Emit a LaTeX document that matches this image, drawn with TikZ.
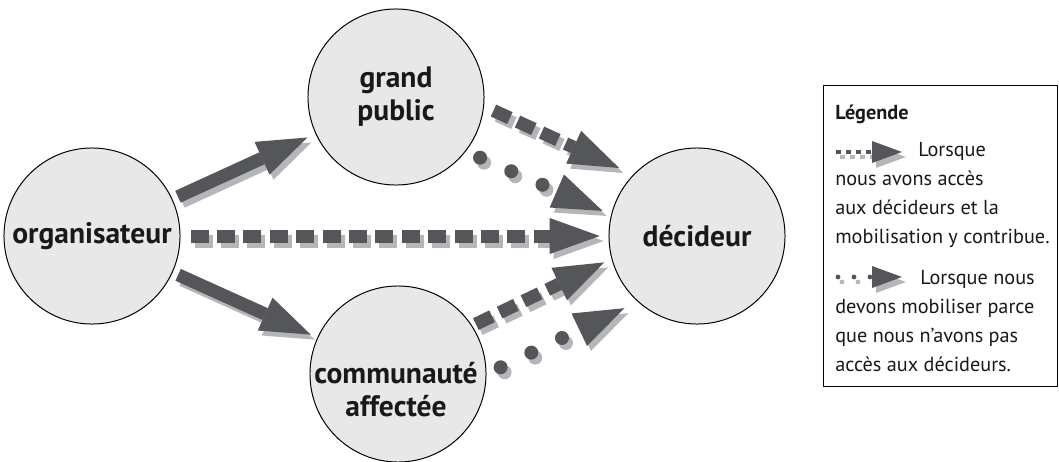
\documentclass[tikz,border=0pt]{standalone}
\usepackage{fontspec}
\setmainfont{PT Sans}
\usetikzlibrary{arrows.meta}
\definecolor{grisfonce}{HTML}{55565A}
\definecolor{grisombre}{HTML}{B5B6B9}
\definecolor{grisclair}{HTML}{E8E8E8}
% flèche avec son ombre portée
\newcommand{\fleche}[3]{%
  \draw[#1, ombre] (#2) -- (#3);
  \draw[#1] (#2) -- (#3);}
\begin{document}
\begin{tikzpicture}[x=0.025cm, y=-0.025cm,
  etiquette/.style={align=center, text=black!90, inner sep=0pt, font=\fontsize{21}{23.5}\selectfont\bfseries},
  bulle/.style={etiquette, circle, draw=black, line width=0.7pt, fill=grisclair, minimum size=44mm},
  plein/.style={draw=grisfonce, line width=3.25mm, -{Triangle[length=12.5mm, width=9mm, line width=0pt]}},
  tirets/.style={plein, dash pattern=on 4.5mm off 2.1mm},
  pointille/.style={plein, line width=3.5mm, line cap=round, dash pattern=on 0pt off 8.5mm},
  mini/.style={draw=grisfonce, line width=1.2mm, -{Triangle[length=7.5mm, width=5.5mm, line width=0pt]}},
  minitirets/.style={mini, dash pattern=on 1.3mm off 1.2mm},
  minipoints/.style={mini, line cap=round, dash pattern=on 0pt off 4mm},
  ombre/.style={draw=grisombre, transform canvas={shift={(4,5)}}},
  texteleg/.style={align=left, inner sep=0pt, text=black!90, font=\fontsize{14.4}{20.6}\selectfont}]
  \useasboundingbox (0,0) rectangle (1059,461);

  % 1. Les bulles
  \node[bulle] (org) at (92,236) {organisateur};
  \node[bulle] (gp) at (396,97) {grand\\public};
  \node[bulle] (comm) at (398,374) {};
  \node[etiquette] (commtexte) at (396,390) {communauté\\affectée};
  \node[bulle] (dec) at (697,236) {décideur};

  % 2. Les flèches vers le décideur
  \fleche{plein, shorten <=1.5mm, shorten >=2.2mm}{org}{gp}
  \fleche{plein, shorten <=1.5mm, shorten >=1.8mm}{org}{comm}
  \fleche{tirets, shorten <=2.5mm, shorten >=2.2mm}{org}{dec}
  \fleche{tirets, shorten <=2.6mm, shorten >=3.9mm}{gp.-6}{dec.136}
  \fleche{pointille, shorten <=3.9mm, shorten >=2.3mm}{gp.-38.5}{dec.166.6}
  \fleche{tirets, shorten <=1mm, shorten >=2mm}{comm.33.5}{dec.195.6}
  \fleche{pointille, shorten <=3.9mm, shorten >=3.7mm}{comm.0}{dec.228}

  % 3. La légende
  \node[draw=black, line width=0.6pt, minimum width=58.5mm, minimum height=75.25mm, anchor=north west, inner sep=0pt] (legende) at (823,85) {};
  \node[texteleg, font=\fontsize{14.4}{20.6}\selectfont\bfseries, anchor=base west] (titre) at (835,119) {Légende};
  \node[texteleg, anchor=north west] (texte1) at (835,142) {\hspace*{20.75mm}Lorsque\\nous avons accès\\aux décideurs et la\\mobilisation y contribue.};
  \node[texteleg, anchor=north west] (texte2) at (835,270) {\hspace*{21.25mm}Lorsque nous\\devons mobiliser parce\\que nous n’avons pas\\accès aux décideurs.};
  \coordinate (icone1a) at (836,152);
  \coordinate (icone1b) at (902,152);
  \fleche{minitirets}{icone1a}{icone1b}
  \coordinate (icone2a) at (838,277);
  \coordinate (icone2b) at (902,277);
  \fleche{minipoints}{icone2a}{icone2b}
\end{tikzpicture}
\end{document}
